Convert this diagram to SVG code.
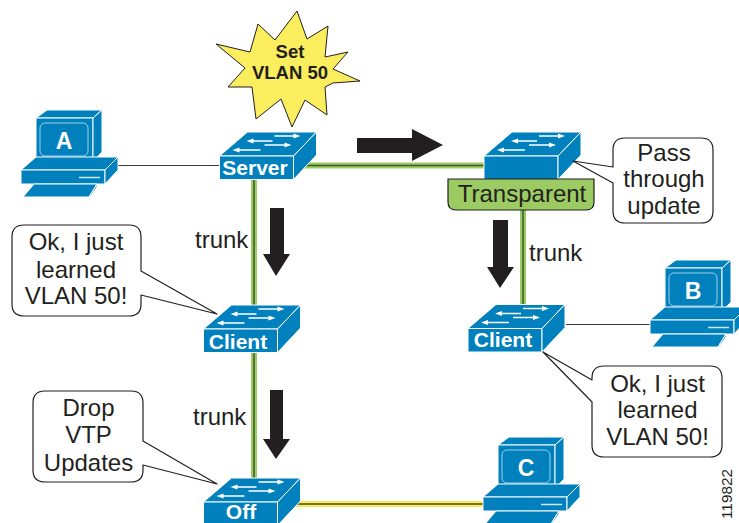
<svg xmlns="http://www.w3.org/2000/svg" width="739" height="523" viewBox="0 0 739 523">
<style>
text{font-family:"Liberation Sans",Arial,sans-serif;fill:#231f20}
.t{font-size:24px;text-anchor:middle}
.lbl{font-size:24px}
.w{font-weight:bold;font-size:21px;fill:#fff;text-anchor:middle}
.d{fill:#0080bc;stroke:#fff;stroke-width:1;stroke-linejoin:round}
.a{fill:#fff;stroke:none}
.s{stroke:#fff;stroke-width:1.3;fill:none}
.link{stroke:#9bcb62;stroke-width:6;fill:none}
.core{stroke:#3c5a2c;stroke-width:1.5;fill:none}
.yl{stroke:#f7ec5c;stroke-width:6;fill:none}
.core2{stroke:#4a4a20;stroke-width:1.5;fill:none}
.thin{stroke:#3a3a3a;stroke-width:1.2;fill:none}
.call{fill:#fff;stroke:#231f20;stroke-width:1.2;stroke-linejoin:round}
.arr{fill:#231f20}
</style>
<defs>
<g id="sw">
<path class="d" d="M0 0L28-24H97L74 0Z"/>
<rect class="d" x="0" y="0" width="74" height="23.500"/>
<path class="d" d="M74 0L97-24V-1L74 23.500Z"/>
<path class="s" d="M55-20H78M30-15H53M45-11H69M16-6H41"/>
<path class="a" d="M81-20L74-22.500V-17.500ZM27-15L34-17.500V-12.500ZM72-11L65-13.500V-8.500ZM13-6L20-8.500V-3.500Z"/>
</g>
<g id="pc">
<path class="d" d="M15 8L26 0H81L72 8Z"/>
<rect class="d" x="15" y="8" width="57" height="43"/>
<path class="d" d="M72 8L81 0V42L72 51Z"/>
<rect x="19" y="13" width="48" height="33" rx="5" fill="none" stroke="#9fd0e8" stroke-width="1"/>
<path class="d" d="M0 60L15 47H97L84 60Z"/>
<rect class="d" x="0" y="60" width="84" height="14"/>
<path class="d" d="M84 60L97 47V60L84 74Z"/>
<path d="M58 67.500H79" stroke="#cfe6f2" stroke-width="1.500" fill="none"/>
<path class="d" d="M2 87L13 74H76L68 87Z"/>
<path class="d" d="M68 87L76 74V77L69 87Z"/>
</g>
</defs>

<g id="connectors">
<path class="thin" d="M118 165.500H220M566 324.500H650"/>
<path class="link" d="M300 165.500H486M254 178V305M254 352V479M523 209V306"/>
<path class="core" d="M300 165.500H486M254 178V305M254 352V479M523 209V306"/>
<path class="yl" d="M296 504H484"/>
<path class="core2" d="M296 504H484"/>
</g>

<g id="arrows">
<path class="arr" d="M357 138H412V129L443 145L412 161V153H357Z"/>
<path class="arr" d="M270 208H284V254H290L276 276L263 254H270Z"/>
<path class="arr" d="M270 390H283V439H290L276 459L263 439H270Z"/>
<path class="arr" d="M493 220H508V267H514L500 288L487 267H493Z"/>
</g>

<g id="star">
<path d="M297 11L307 39L328 26L325 57L348 52L333 69L360 81L333 83L325 87L327 115L305 100L292 127L281 99L256 119L252 87L228 87L245 68L216 44L250 52L258 24L275 40Z" fill="#fbee5e" stroke="#231f20" stroke-width="1"/>
<text x="290" y="58" font-weight="bold" font-size="18.500" text-anchor="middle">Set</text>
<text x="290" y="79" font-weight="bold" font-size="18.500" text-anchor="middle">VLAN 50</text>
</g>

<g id="pcA"><use href="#pc" x="21" y="110"/><text class="w" x="64" y="149" style="font-size:23px">A</text></g>
<g id="pcB"><use href="#pc" x="650" y="260"/><text class="w" x="693" y="299" style="font-size:23px">B</text></g>
<g id="pcC"><use href="#pc" x="483" y="437"/><text class="w" x="526" y="476" style="font-size:23px">C</text></g>

<g id="server"><use href="#sw" x="219.500" y="156"/><text class="w" x="255" y="175">Server</text></g>
<g id="transparent"><use href="#sw" x="484" y="156"/>
<path d="M448 179H594V202Q594 210 586 210H456Q448 210 448 202Z" fill="#9bcb62" stroke="#231f20" stroke-width="1.200"/>
<text class="t" x="522" y="202">Transparent</text></g>
<g id="clientL"><use href="#sw" x="203.500" y="329"/><text class="w" x="238" y="349">Client</text></g>
<g id="clientR"><use href="#sw" x="468" y="328.500"/><text class="w" x="503" y="347">Client</text></g>
<g id="off"><use href="#sw" x="203.500" y="502"/><text class="w" x="241" y="518.500">Off</text></g>

<g id="callout1">
<path class="call" d="M24 225H129Q141 225 141 237V271L217 314L141 295V304Q141 316 129 316H24Q12 316 12 304V237Q12 225 24 225Z"/>
<text class="t" x="76" y="250">Ok, I just</text><text class="t" x="76" y="278">learned</text><text class="t" x="76" y="304">VLAN 50!</text>
</g>
<g id="callout2">
<path class="call" d="M45 391H131Q143 391 143 403V441L217 484L143 465V470Q143 482 131 482H45Q33 482 33 470V403Q33 391 45 391Z"/>
<text class="t" x="88.500" y="416">Drop</text><text class="t" x="88.500" y="443">VTP</text><text class="t" x="88.500" y="471">Updates</text>
</g>
<g id="callout3">
<path class="call" d="M604 366H710Q722 366 722 378V445Q722 457 710 457H604Q592 457 592 445V402L543 352L592 380V378Q592 366 604 366Z"/>
<text class="t" x="657.500" y="392">Ok, I just</text><text class="t" x="657.500" y="418">learned</text><text class="t" x="657.500" y="445">VLAN 50!</text>
</g>
<g id="callout4">
<path class="call" d="M625 138H701Q713 138 713 150V211Q713 223 701 223H625Q613 223 613 211V183L573 161L613 167V150Q613 138 625 138Z"/>
<text class="t" x="664" y="161">Pass</text><text class="t" x="664" y="187">through</text><text class="t" x="664" y="214">update</text>
</g>

<text class="lbl" x="195" y="248">trunk</text>
<text class="lbl" x="193" y="425">trunk</text>
<text class="lbl" x="529" y="261">trunk</text>
<text x="732" y="519" font-size="15.300" transform="rotate(-90 732 519)">119822</text>
</svg>
